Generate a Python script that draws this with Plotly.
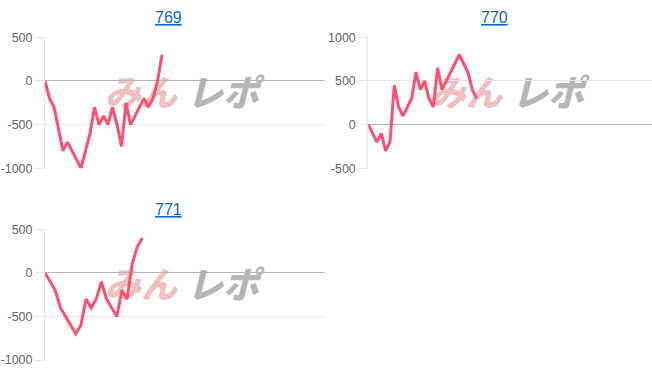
import plotly.graph_objects as go

W, H = 652, 382

titles = ["769", "770", "771"]
s769 = [0, -200, -300, -550, -800, -700, -800, -900, -1000, -800, -600, -300, -500,
        -400, -500, -300, -500, -750, -250, -500, -400, -300, -200, -300, -200, 0, 300]
s770 = [0, -100, -200, -100, -300, -200, 450, 200, 100, 200, 300, 600, 400, 500, 300,
        200, 650, 400, 500, 600, 700, 800, 700, 600, 400, 300]
s771 = [0, -100, -200, -400, -500, -600, -700, -600, -300, -400, -300, -100, -300,
        -400, -500, -200, -300, 100, 300, 400]
series = [s769, s770, s771]
x_max = [62.2, 65.4, 54.6]
y_ranges = [[-1000, 500], [-500, 1000], [-1000, 500]]
y_ticks = [[-1000, -500, 0, 500], [-500, 0, 500, 1000], [-1000, -500, 0, 500]]

# plot areas in pixels: (left, right, top, bottom)
areas = [(45, 325, 37.3, 168.3), (368.3, 651.7, 37.3, 168.3), (45, 325, 229.3, 360.0)]
title_pos = [(168.8, 17), (495, 17), (168.8, 209)]

LINE = "#ff4f6e"
GRID = "#e6e6e6"
ZERO = "#b5b5b5"
TICKC = "#666666"
FONT = "Liberation Sans, Arial, sans-serif"

fig = go.Figure()
layout = dict(
    width=W, height=H, margin=dict(l=0, r=0, t=0, b=0, pad=0, autoexpand=False),
    paper_bgcolor="white", plot_bgcolor="white", showlegend=False,
)
annotations = []
shapes = []

for k in range(3):
    xs = "x" if k == 0 else f"x{k+1}"
    ys = "y" if k == 0 else f"y{k+1}"
    xa = "xaxis" if k == 0 else f"xaxis{k+1}"
    ya = "yaxis" if k == 0 else f"yaxis{k+1}"
    l, r, t, b = areas[k]
    fig.add_trace(go.Scatter(
        x=list(range(len(series[k]))), y=series[k], mode="lines",
        line=dict(color=LINE, width=3), xaxis=xs, yaxis=ys, hoverinfo="skip",
    ))
    layout[xa] = dict(domain=[l / W, r / W], range=[0, x_max[k]], showgrid=False,
                      zeroline=False, showticklabels=False, showline=False,
                      automargin=False, anchor=ys, fixedrange=True)
    layout[ya] = dict(domain=[1 - b / H, 1 - t / H], range=y_ranges[k],
                      tickvals=y_ticks[k], ticktext=[str(v) for v in y_ticks[k]],
                      showgrid=True, gridcolor=GRID, gridwidth=1,
                      zeroline=True, zerolinecolor=ZERO, zerolinewidth=1,
                      showline=True, linecolor=GRID, linewidth=1,
                      ticks="outside", ticklen=9, tickcolor=GRID,
                      tickfont=dict(family=FONT, size=12.5, color=TICKC),
                      automargin=False, anchor=xs, fixedrange=True)
    tx, ty = title_pos[k]
    annotations.append(dict(
        text=titles[k], x=tx / W, y=1 - ty / H, xref="paper", yref="paper",
        showarrow=False, xanchor="center", yanchor="middle",
        font=dict(family=FONT, size=16, color="#0a68cc", lineposition="under"),
    ))
    # watermark
    cx = (l + r) / 2
    cy = (t + b) / 2 - 7
    for txt, col, dx in [("みん", "rgba(228,150,150,0.6)", -44), ("レポ", "rgba(150,150,150,0.7)", 38)]:
        shapes.append(dict(
            type="rect", xref="paper", yref="paper", layer="below",
            x0=(cx + dx - 40) / W, x1=(cx + dx + 40) / W,
            y0=1 - (cy + 16) / H, y1=1 - (cy - 16) / H,
            line=dict(width=0), fillcolor="rgba(0,0,0,0)",
            label=dict(text=txt, textposition="middle center",
                       font=dict(family="Noto Sans CJK JP", size=36, color=col,
                                 weight=900, style="italic")),
        ))

layout["annotations"] = annotations
layout["shapes"] = shapes
fig.update_layout(**layout)
fig.write_html("out.html")
